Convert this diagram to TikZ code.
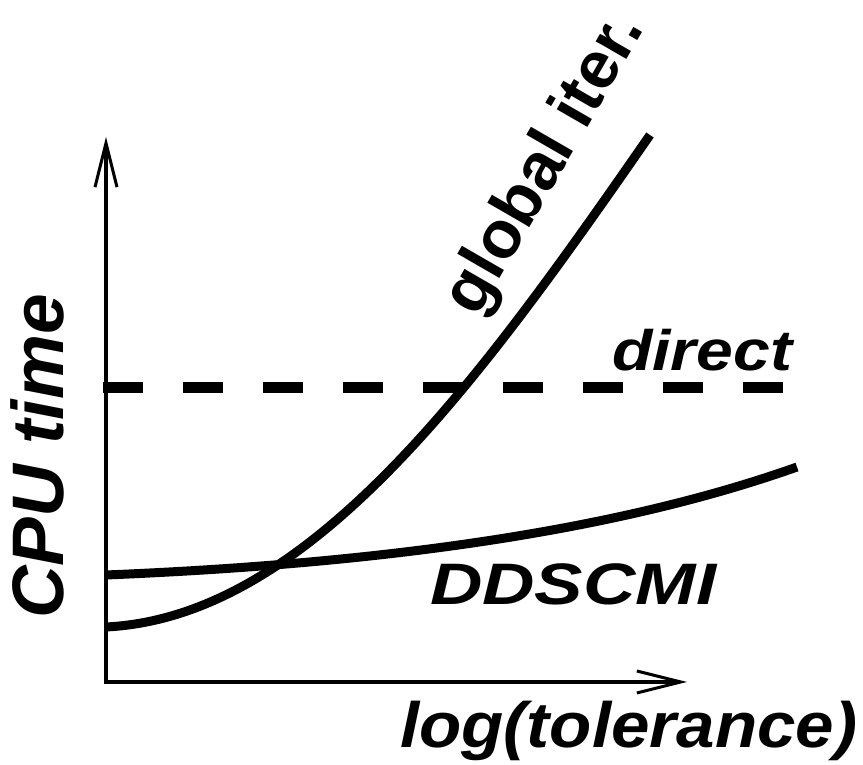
\documentclass[tikz,border=0pt]{standalone}
\usepackage{fontspec}
\setmainfont{Liberation Sans}
\usetikzlibrary{arrows.meta}
\begin{document}
\begin{tikzpicture}[x=1pt,y=1pt,>={Straight Barb[length=44pt,width=22pt,line width=3pt]},
  axis/.style={line width=4.5pt},
  curve/.style={line width=9pt},
  lbl/.style={inner sep=0pt,font=\bfseries\itshape}]
\useasboundingbox (0,0) rectangle (863,765);
% Axes
\coordinate (origin) at (106,83);
\coordinate (ytip) at (106,628);
\coordinate (xtip) at (687,83);
\draw[->,axis] (106,80.75) -- (ytip);
\draw[->,axis] (103.75,83) -- (xtip);
\node[lbl,anchor=base west] (xlabel) at (400,17)
  {\fontsize{64}{70}\selectfont\scalebox{1.08}[1]{log(tolerance)}};
\node[lbl,anchor=base west,rotate=90] (ylabel) at (63,146)
  {\fontsize{73}{80}\selectfont CPU time};

% Direct solver: constant cost
\coordinate (dstart) at (103,377.5);
\coordinate (dend) at (783,377.5);
\draw[line width=11pt,dash pattern=on 40pt off 40pt] (dstart) -- (dend);
\node[lbl,anchor=base west] (direct) at (612,394)
  {\fontsize{57}{60}\selectfont\scalebox{1.16}[1]{direct}};

% Global iteration: grows fast
\draw[curve] (106,138) .. controls (310,148) and (480,385) .. (650,630);
\node[inner sep=0pt,font=\bfseries,anchor=base east,rotate=60] (global) at (645,737)
  {\fontsize{67}{72}\selectfont global iter.};

% DDSCMI: grows slowly
\draw[curve] (106,190) .. controls (350,200) and (600,228) .. (797,298);
\node[lbl,anchor=base west] (ddscmi) at (430,160)
  {\fontsize{58.5}{64}\selectfont\scalebox{1.24}[1]{DDSCMI}};
\end{tikzpicture}
\end{document}
